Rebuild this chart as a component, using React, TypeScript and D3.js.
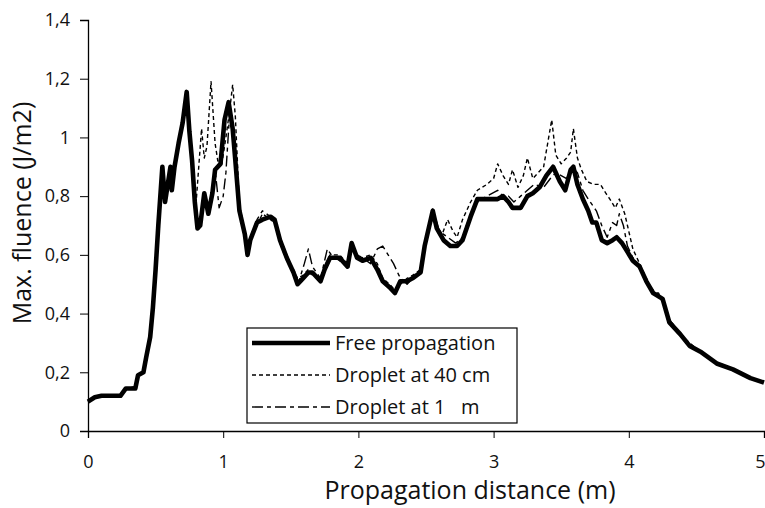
import React, { useEffect, useRef } from "react";
import { axisBottom, axisLeft, line, scaleLinear, select } from "d3";

// Propagation distance (m) / max. fluence (J/m2)
const freeDist = [
  0, 0.05, 0.1, 0.24, 0.28, 0.35, 0.37, 0.41, 0.43, 0.46, 0.48, 0.5, 0.52, 0.55, 0.57, 0.61, 0.62, 0.64, 0.67, 0.7,
  0.73, 0.75, 0.77, 0.79, 0.81, 0.83, 0.86, 0.89, 0.92, 0.94, 0.98, 1.01, 1.04, 1.07, 1.09, 1.12, 1.16, 1.18, 1.2,
  1.25, 1.29, 1.35, 1.38, 1.42, 1.47, 1.49, 1.52, 1.55, 1.59, 1.63, 1.66, 1.72, 1.75, 1.79, 1.83, 1.86, 1.92, 1.95,
  1.99, 2.03, 2.09, 2.14, 2.18, 2.23, 2.27, 2.31, 2.36, 2.4, 2.46, 2.49, 2.53, 2.55, 2.58, 2.63, 2.68, 2.73, 2.77,
  2.83, 2.88, 2.95, 3.03, 3.07, 3.11, 3.14, 3.2, 3.25, 3.29, 3.34, 3.39, 3.44, 3.49, 3.53, 3.57, 3.59, 3.62, 3.66,
  3.7, 3.73, 3.76, 3.8, 3.84, 3.88, 3.91, 3.95, 3.99, 4.03, 4.08, 4.13, 4.18, 4.25, 4.3, 4.38, 4.45, 4.53, 4.65,
  4.77, 4.9, 5,
];
const freeVal = [
  0.1, 0.115, 0.12, 0.12, 0.145, 0.145, 0.19, 0.2, 0.25, 0.32, 0.42, 0.55, 0.7, 0.9, 0.78, 0.9, 0.82, 0.9, 0.98, 1.05,
  1.155, 1.02, 0.92, 0.78, 0.69, 0.7, 0.81, 0.74, 0.81, 0.89, 0.91, 1.06, 1.12, 1.03, 0.92, 0.75, 0.67, 0.6, 0.65,
  0.71, 0.72, 0.73, 0.72, 0.65, 0.59, 0.57, 0.54, 0.5, 0.52, 0.54, 0.54, 0.51, 0.55, 0.59, 0.59, 0.59, 0.56, 0.64,
  0.59, 0.58, 0.59, 0.55, 0.51, 0.49, 0.47, 0.51, 0.51, 0.52, 0.54, 0.63, 0.71, 0.75, 0.69, 0.65, 0.63, 0.63, 0.65,
  0.73, 0.79, 0.79, 0.79, 0.8, 0.78, 0.76, 0.76, 0.8, 0.81, 0.83, 0.87, 0.9, 0.85, 0.82, 0.89, 0.9, 0.84, 0.79,
  0.75, 0.71, 0.71, 0.65, 0.64, 0.65, 0.66, 0.64, 0.61, 0.58, 0.56, 0.51, 0.47, 0.45, 0.37, 0.33, 0.29, 0.27, 0.23,
  0.21, 0.18, 0.165,
];

const drop40Dist = [
  0, 0.05, 0.1, 0.24, 0.28, 0.35, 0.37, 0.41, 0.43, 0.46, 0.48, 0.5, 0.52, 0.55, 0.57, 0.61, 0.62, 0.64, 0.67, 0.7,
  0.73, 0.75, 0.77, 0.8, 0.84, 0.86, 0.88, 0.91, 0.94, 0.96, 0.99, 1.02, 1.05, 1.07, 1.09, 1.12, 1.16, 1.18, 1.2,
  1.25, 1.29, 1.35, 1.38, 1.42, 1.47, 1.52, 1.55, 1.59, 1.63, 1.66, 1.72, 1.75, 1.79, 1.86, 1.92, 1.95, 1.99, 2.03,
  2.09, 2.14, 2.18, 2.23, 2.27, 2.31, 2.36, 2.4, 2.46, 2.49, 2.53, 2.55, 2.58, 2.62, 2.66, 2.7, 2.73, 2.77, 2.83,
  2.88, 2.95, 3.0, 3.03, 3.07, 3.11, 3.14, 3.18, 3.22, 3.25, 3.29, 3.33, 3.37, 3.4, 3.43, 3.46, 3.5, 3.54, 3.57,
  3.59, 3.62, 3.65, 3.69, 3.74, 3.79, 3.83, 3.86, 3.9, 3.93, 3.97, 3.99, 4.03, 4.08, 4.13, 4.18, 4.22, 4.26, 4.3,
  4.38, 4.45, 4.53, 4.65, 4.77, 4.9, 5,
];
const drop40Val = [
  0.1, 0.115, 0.12, 0.12, 0.145, 0.15, 0.19, 0.2, 0.25, 0.32, 0.42, 0.55, 0.7, 0.89, 0.79, 0.89, 0.83, 0.9, 0.98, 1.05,
  1.15, 1.02, 0.9, 0.78, 1.03, 0.93, 0.97, 1.19, 0.98, 0.92, 0.91, 1.0, 1.1, 1.18, 1.07, 0.77, 0.68, 0.62, 0.66,
  0.7, 0.74, 0.72, 0.71, 0.64, 0.58, 0.55, 0.52, 0.53, 0.55, 0.53, 0.52, 0.56, 0.6, 0.6, 0.57, 0.63, 0.6, 0.59,
  0.6, 0.57, 0.52, 0.5, 0.48, 0.5, 0.52, 0.53, 0.55, 0.64, 0.72, 0.76, 0.7, 0.67, 0.72, 0.68, 0.66, 0.72, 0.78,
  0.82, 0.84, 0.86, 0.91, 0.87, 0.84, 0.89, 0.83, 0.87, 0.93, 0.86, 0.88, 0.9, 0.98, 1.06, 0.94, 0.91, 0.93, 0.95,
  1.03, 0.93, 0.89, 0.85, 0.84, 0.84, 0.81, 0.79, 0.76, 0.79, 0.74, 0.7, 0.62, 0.57, 0.52, 0.47, 0.47, 0.43, 0.38,
  0.33, 0.3, 0.27, 0.23, 0.21, 0.18, 0.165,
];

const drop1Dist = [
  0, 0.05, 0.1, 0.24, 0.28, 0.35, 0.37, 0.41, 0.43, 0.46, 0.48, 0.5, 0.52, 0.55, 0.57, 0.61, 0.62, 0.64, 0.67, 0.7,
  0.73, 0.75, 0.77, 0.79, 0.81, 0.83, 0.86, 0.89, 0.92, 0.94, 0.97, 1.0, 1.02, 1.05, 1.07, 1.09, 1.12, 1.16, 1.18,
  1.2, 1.25, 1.29, 1.35, 1.38, 1.42, 1.47, 1.52, 1.56, 1.6, 1.63, 1.66, 1.72, 1.77, 1.8, 1.86, 1.92, 1.95, 1.99,
  2.03, 2.09, 2.14, 2.18, 2.22, 2.26, 2.3, 2.36, 2.4, 2.46, 2.49, 2.53, 2.56, 2.6, 2.66, 2.72, 2.77, 2.83, 2.88,
  2.95, 3.03, 3.07, 3.11, 3.15, 3.2, 3.25, 3.3, 3.37, 3.42, 3.46, 3.5, 3.54, 3.58, 3.62, 3.66, 3.7, 3.73, 3.76,
  3.8, 3.84, 3.88, 3.91, 3.93, 3.96, 3.99, 4.03, 4.08, 4.13, 4.18, 4.25, 4.3, 4.38, 4.45, 4.53, 4.65, 4.77, 4.9, 5,
];
const drop1Val = [
  0.1, 0.115, 0.12, 0.12, 0.145, 0.15, 0.19, 0.2, 0.25, 0.32, 0.42, 0.55, 0.7, 0.89, 0.78, 0.89, 0.82, 0.9, 0.98, 1.05,
  1.15, 1.02, 0.91, 0.78, 0.7, 0.71, 0.8, 0.75, 0.82, 0.89, 0.76, 0.8, 0.88, 1.1, 1.02, 0.92, 0.76, 0.66, 0.61,
  0.66, 0.72, 0.75, 0.73, 0.72, 0.66, 0.6, 0.53, 0.51, 0.57, 0.62, 0.56, 0.52, 0.62, 0.6, 0.58, 0.57, 0.62, 0.6,
  0.59, 0.57, 0.62, 0.63, 0.6, 0.57, 0.53, 0.5, 0.52, 0.55, 0.64, 0.72, 0.74, 0.68, 0.66, 0.64, 0.66, 0.74, 0.78,
  0.8, 0.82, 0.8, 0.8, 0.78, 0.8, 0.82, 0.84, 0.83, 0.86, 0.88, 0.87, 0.86, 0.9, 0.88, 0.82, 0.79, 0.77, 0.75,
  0.7, 0.66, 0.71, 0.7, 0.74, 0.7, 0.63, 0.59, 0.56, 0.51, 0.48, 0.44, 0.38, 0.33, 0.29, 0.27, 0.23, 0.21, 0.18, 0.165,
];

const legendLabels = ["Free propagation", "Droplet at 40 cm", "Droplet at 1   m"];
const xTicks = [0, 1, 2, 3, 4, 5];
const yTicks = [0, 0.2, 0.4, 0.6, 0.8, 1, 1.2, 1.4];

const W = 765;
const H = 508;
const margin = { left: 88, right: 1, top: 20, bottom: 77 };
const font = "'Open Sans', 'DejaVu Sans', sans-serif";

const series = [
  { name: legendLabels[0], xs: freeDist, ys: freeVal, width: 4.6, dash: "none" },
  { name: legendLabels[1], xs: drop40Dist, ys: drop40Val, width: 1.4, dash: "4,3" },
  { name: legendLabels[2], xs: drop1Dist, ys: drop1Val, width: 1.4, dash: "11,4,4,4" },
];

const comma = (d: number) => String(+d.toFixed(1)).replace(".", ",");

const App = () => {
  const xAxisRef = useRef<SVGGElement>(null);
  const yAxisRef = useRef<SVGGElement>(null);

  const x = scaleLinear().domain([0, 5]).range([margin.left, W - margin.right]);
  const y = scaleLinear().domain([0, 1.4]).range([H - margin.bottom, margin.top]);

  useEffect(() => {
    const gx = select(xAxisRef.current);
    gx.call(axisBottom(x).tickValues(xTicks).tickSize(7).tickPadding(17).tickFormat((d) => comma(+d)) as any);
    gx.select(".domain").attr("stroke", "#000").attr("stroke-width", 1.3);
    gx.selectAll("text").attr("font-size", 18).attr("font-family", font).attr("fill", "#111");
    // keep the last label inside the picture
    gx.selectAll<SVGTextElement, number>("text")
      .filter((d) => d === 5)
      .attr("text-anchor", "end")
      .attr("x", 1);

    const gy = select(yAxisRef.current);
    gy.call(axisLeft(y).tickValues(yTicks).tickSize(8).tickPadding(10).tickFormat((d) => comma(+d)) as any);
    gy.select(".domain").attr("stroke", "#000").attr("stroke-width", 1.3);
    gy.selectAll("text").attr("font-size", 18).attr("font-family", font).attr("fill", "#111");
  }, []);

  const pathFor = (xs: number[], ys: number[]) =>
    line<number>()
      .x((_, i) => x(xs[i]))
      .y((d) => y(d))(ys) || "";

  const legendX = 247;
  const legendY = 328;

  return (
    <svg width={W} height={H} style={{ position: "absolute", left: 0, top: 0, background: "#fff" }}>
      <g fill="none" stroke="#000" strokeLinejoin="round" strokeLinecap="butt">
        {series
          .slice()
          .reverse()
          .map((s) => (
            <path key={s.name} d={pathFor(s.xs, s.ys)} strokeWidth={s.width} strokeDasharray={s.dash} />
          ))}
      </g>

      <g ref={xAxisRef} transform={`translate(0,${H - margin.bottom})`} />
      <g ref={yAxisRef} transform={`translate(${margin.left},0)`} />

      <text x={470} y={499} textAnchor="middle" fontFamily={font} fontSize={25} fill="#111">
        Propagation distance (m)
      </text>
      <text
        transform="translate(31,213) rotate(-90)"
        textAnchor="middle"
        fontFamily={font}
        fontSize={25}
        fill="#111"
      >
        Max. fluence (J/m2)
      </text>

      <g>
        <rect x={legendX} y={legendY} width={270} height={95} fill="#fff" stroke="#000" strokeWidth={1.2} />
        {series.map((s, i) => (
          <g key={s.name} transform={`translate(${legendX},${legendY + 15 + i * 32})`}>
            <line x1={5} x2={83} y1={0} y2={0} stroke="#000" strokeWidth={s.width} strokeDasharray={s.dash} />
            <text x={88} y={7} fontFamily={font} fontSize={20} fill="#111" style={{ whiteSpace: "pre" }}>
              {s.name}
            </text>
          </g>
        ))}
      </g>
    </svg>
  );
};

export default App;
